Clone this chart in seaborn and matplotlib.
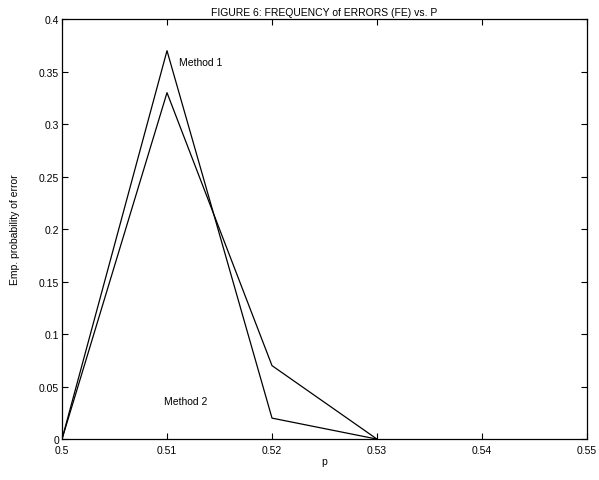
import matplotlib
matplotlib.use("Agg")
import matplotlib.pyplot as plt
import seaborn as sns
import pandas as pd

p = [0.50, 0.51, 0.52, 0.53]
method1 = [0.0, 0.37, 0.02, 0.0]
method2 = [0.0, 0.33, 0.07, 0.0]
xticks = [0.5, 0.51, 0.52, 0.53, 0.54, 0.55]
yticks = [0, 0.05, 0.1, 0.15, 0.2, 0.25, 0.3, 0.35, 0.4]
xtick_labels = ["0.5", "0.51", "0.52", "0.53", "0.54", "0.55"]
ytick_labels = ["0", "0.05", "0.1", "0.15", "0.2", "0.25", "0.3", "0.35", "0.4"]

sns.set_style("white", {"xtick.direction": "in", "ytick.direction": "in"})
plt.rcParams['font.family'] = ['Liberation Sans', 'DejaVu Sans']
plt.rcParams['text.color'] = 'black'
plt.rcParams['axes.labelcolor'] = 'black'

df = pd.DataFrame({"p": p + p,
                   "err": method1 + method2,
                   "method": ["Method 1"] * len(p) + ["Method 2"] * len(p)})

fig = plt.figure(figsize=(5.99, 4.81), dpi=100)
ax = fig.add_axes([0.1035, 0.085, 0.8765, 0.873])
sns.lineplot(data=df, x="p", y="err", units="method", estimator=None,
             color="black", lw=0.9, ax=ax, legend=False)
ax.set_xlim(0.5, 0.55)
ax.set_ylim(0, 0.4)
ax.set_xticks(xticks)
ax.set_xticklabels(xtick_labels)
ax.set_yticks(yticks)
ax.set_yticklabels(ytick_labels)
ax.tick_params(direction="in", length=4, width=0.8, labelsize=7.5, colors="black",
               top=True, right=True, bottom=True, left=True, labeltop=False, labelright=False,
               pad=2)
ax.tick_params(axis="x", pad=4)
for s in ax.spines.values():
    s.set_color("black")
    s.set_linewidth(0.9)
ax.set_xlabel("p", fontsize=7.5, color="black", labelpad=1)
ax.set_ylabel("Emp. probability of error", fontsize=7.5, color="black", labelpad=14)
ax.set_title("FIGURE 6: FREQUENCY of ERRORS (FE) vs. P", fontsize=7.5, pad=3, color="black")
ax.text(0.5111, 0.354, "Method 1", fontsize=7.5, va="bottom", color="black")
ax.text(0.5097, 0.032, "Method 2", fontsize=7.5, va="bottom", color="black")
fig.savefig("out.png", dpi=100)
